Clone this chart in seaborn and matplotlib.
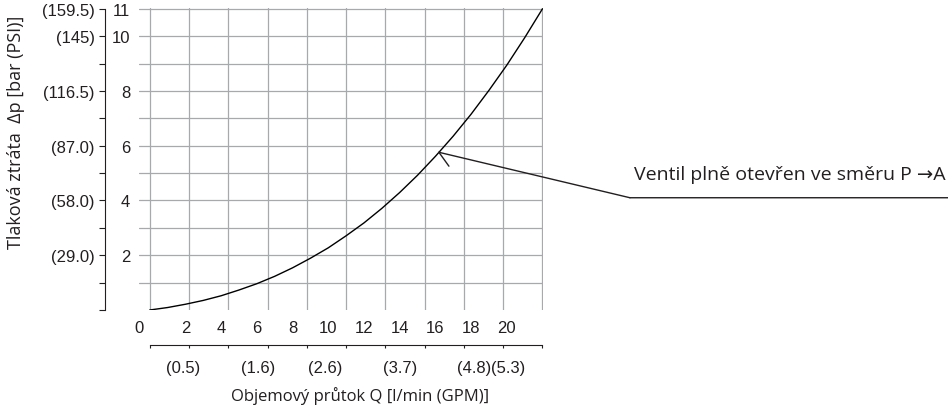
import matplotlib
matplotlib.use("Agg")
import matplotlib.pyplot as plt
import seaborn as sns
import pandas as pd

# curve: flow [l/min] -> pressure loss [bar]
flow_lpm = [0, 1, 2, 3, 4, 5, 6, 7, 8, 9, 10, 11, 12, 13, 14, 15, 16, 17, 18, 19, 20, 21, 22]
dp_bar = [0, 0.09, 0.21, 0.35, 0.52, 0.73, 0.96, 1.23, 1.54, 1.89, 2.27, 2.71, 3.18,
          3.71, 4.29, 4.92, 5.61, 6.35, 7.15, 8.02, 8.94, 9.94, 11.0]

q_labels = ["0", "2", "4", "6", "8", "10", "12", "14", "16", "18", "20"]
q_label_pos = [-0.6, 2, 4, 6, 8, 10, 12, 14, 16, 18, 20]      # the 0 sits left of the corner
grid_q = [0, 2.2, 4.4, 6.6, 8.8, 11, 13.2, 15.4, 17.6, 19.8, 22]

bar_ticks = [2, 4, 6, 8, 10, 11]
bar_labels = ["2", "4", "6", "8", "10", "11"]
psi_labels = ["(29.0)", "(58.0)", "(87.0)", "(116.5)", "(145)", "(159.5)"]
bar_minor = [0, 1, 3, 5, 7, 9]

gpm_values = [0.5, 1.6, 2.6, 3.7, 4.8, 5.3]
gpm_labels = ["(0.5)", "(1.6)", "(2.6)", "(3.7)", "(4.8)", "(5.3)"]
LPM_PER_GPM = 3.785

note = "Ventil plně otevřen ve směru P →A"
note_tip = (16.2, 5.76)
note_knee = (26.9, 4.1)

sns.set_theme(style="white")
tick_font = "Liberation Sans"
text_font = ["Open Sans", "DejaVu Sans"]
plt.rcParams["font.family"] = text_font

ink = "#231f20"
grid_c = "#a7a9ac"
px = 0.72   # points per pixel at dpi 100
tick_size = 12

fig = plt.figure(figsize=(9.48, 4.14), dpi=100)
ax = fig.add_axes([139 / 948, 1 - 311 / 414, 404 / 948, 302 / 414])

df = pd.DataFrame({"Q": flow_lpm, "dp": dp_bar})
sns.lineplot(data=df, x="Q", y="dp", ax=ax, color="black", lw=1.0)
ax.set_xlim(-0.03, 22.03)
ax.set_ylim(0, 11.03)
ax.set_xlabel("")
ax.set_ylabel("")

for s in ["top", "right", "bottom"]:
    ax.spines[s].set_visible(False)
ax.spines["left"].set_position(("outward", 34 * px))
ax.spines["left"].set_bounds(0, 11)
ax.spines["left"].set_color(ink)
ax.spines["left"].set_linewidth(0.8)

# PSI labels on the outer side of the left spine
ax.set_yticks(bar_ticks, psi_labels)
ax.set_yticks(bar_minor, minor=True)
ax.tick_params(axis="y", which="both", direction="out", length=6 * px, width=0.8,
               color=ink, labelcolor=ink, labelsize=tick_size, pad=4 * px, left=True)
for t in ax.get_yticklabels():
    t.set_family(tick_font)

ax.set_xticks(q_label_pos, q_labels)
ax.set_xticks(grid_q, minor=True)
ax.tick_params(axis="x", which="both", length=0, labelsize=tick_size, labelcolor=ink, pad=7)
for t in ax.get_xticklabels():
    t.set_family(tick_font)

ax.grid(False)
ax.grid(True, which="minor", axis="x", color=grid_c, lw=0.9)
ax.grid(True, which="both", axis="y", color=grid_c, lw=0.9)
for t in ax.yaxis.get_minor_ticks():
    if t.get_loc() == 0:
        t.gridline.set_visible(False)

# bar labels inside, between spine and grid
ax2 = ax.twinx()
ax2.set_ylim(ax.get_ylim())
ax2.yaxis.tick_left()
ax2.set_yticks(bar_ticks, bar_labels)
ax2.tick_params(axis="y", length=0, pad=9 * px, labelsize=tick_size, labelcolor=ink)
for t in ax2.get_yticklabels():
    t.set_family(tick_font)
for s in ax2.spines.values():
    s.set_visible(False)
ax2.grid(False)

# GPM axis below
ax3 = ax.twiny()
ax3.set_xlim(ax.get_xlim())
ax3.xaxis.tick_bottom()
for s in ["top", "left", "right"]:
    ax3.spines[s].set_visible(False)
ax3.spines["bottom"].set_position(("outward", 35 * px))
ax3.spines["bottom"].set_bounds(0, 22)
ax3.spines["bottom"].set_color(ink)
ax3.spines["bottom"].set_linewidth(0.8)
ax3.set_xticks([v * LPM_PER_GPM for v in gpm_values], gpm_labels)
ax3.set_xticks(grid_q, minor=True)
ax3.tick_params(axis="x", which="major", length=0, pad=11, labelsize=tick_size, labelcolor=ink)
ax3.tick_params(axis="x", which="minor", direction="out", length=3 * px, width=0.8,
                color=ink, bottom=True)
for t in ax3.get_xticklabels():
    t.set_family(tick_font)
ax3.grid(False)

# annotation with leader line and half arrowhead
line_kw = dict(arrowstyle="-", color=ink, lw=1.0, shrinkA=0, shrinkB=0)
ax.annotate("", xy=note_tip, xytext=note_knee, arrowprops=line_kw, annotation_clip=False)
ax.annotate("", xy=(1.0, note_knee[1]), xycoords=("figure fraction", "data"),
            xytext=note_knee, textcoords="data", arrowprops=line_kw, annotation_clip=False)
ax.annotate("", xy=note_tip, xytext=(7.2, -10), textcoords="offset points",
            arrowprops=line_kw, annotation_clip=False)
fig.text(946 / 948, 1 - 175 / 414, note, ha="right", va="center", fontsize=14,
         color=ink, family=text_font)

fig.text(360 / 948, 1 - 396 / 414, "Objemový průtok Q [l/min (GPM)]", ha="center",
         va="center", fontsize=12, color=ink, family=text_font)
fig.text(16 / 948, 1 - 132 / 414, "Tlaková ztráta  Δp [bar (PSI)]", rotation=90,
         ha="center", va="center", fontsize=13, color=ink, family=text_font)

fig.savefig("out.png", dpi=100)
